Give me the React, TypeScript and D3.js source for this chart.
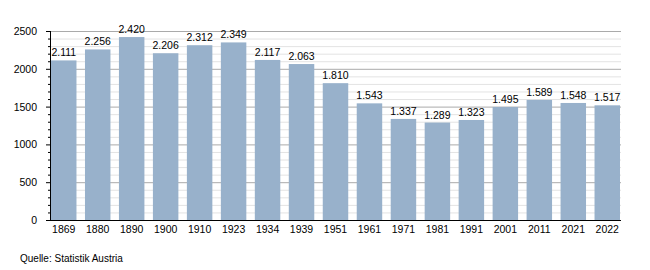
import React from "react";
import * as d3 from "d3";

const years = ["1869","1880","1890","1900","1910","1923","1934","1939","1951","1961","1971","1981","1991","2001","2011","2021","2022"];
const population = [2111,2256,2420,2206,2312,2349,2117,2063,1810,1543,1337,1289,1323,1495,1589,1548,1517];
const yTicks = [0,500,1000,1500,2000,2500];

const W = 650, H = 270;
const left = 50, right = 621, top = 31, bottom = 220;

export default function App() {
  const x = d3.scaleBand<string>().domain(years).range([left + 1, right - 1]).paddingInner(0.25).paddingOuter(0);
  const y = d3.scaleLinear().domain([0, 2500]).range([bottom, top]);
  const minor = d3.range(0, 2501, 100);
  const fmt = (v: number) => d3.format(",")(v).replace(/,/g, ".");
  const font = "'Liberation Sans', Arial, sans-serif";
  return (
    <svg width={W} height={H} style={{ position: "absolute", left: 0, top: 0 }} fontFamily={font}>
      <rect width={W} height={H} fill="#fff" />
      {minor.map(v => (
        <line key={"g" + v} x1={left} x2={right} y1={y(v) + 0.5} y2={y(v) + 0.5}
          stroke={v % 500 === 0 ? "#aaaaaa" : "#e3e3e3"} strokeWidth={1} />
      ))}
      {minor.map(v => (
        <line key={"t" + v} x1={v % 500 === 0 ? left - 4 : left - 2} x2={left} y1={y(v) + 0.5} y2={y(v) + 0.5}
          stroke="#000" strokeWidth={1} />
      ))}
      {years.map((yr, i) => (
        <rect key={yr} x={x(yr)} y={y(population[i])} width={x.bandwidth()} height={bottom - y(population[i])} fill="#98b1cb" />
      ))}
      {years.map((yr, i) => (
        <text key={"l" + yr} x={(x(yr) as number) + x.bandwidth() / 2} y={y(population[i]) - 4}
          textAnchor="middle" fontSize={10.5} fill="#000">{fmt(population[i])}</text>
      ))}
      <line x1={left + 0.5} x2={left + 0.5} y1={top} y2={bottom + 1} stroke="#000" />
      <line x1={left} x2={right} y1={bottom + 0.5} y2={bottom + 0.5} stroke="#000" />
      {yTicks.map(v => (
        <text key={"y" + v} x={37} y={y(v) + 4} textAnchor="end" fontSize={10.5} fill="#000">{v}</text>
      ))}
      {years.map(yr => (
        <text key={"x" + yr} x={(x(yr) as number) + x.bandwidth() / 2} y={233} textAnchor="middle" fontSize={10.5} fill="#000">{yr}</text>
      ))}
      <text x={20} y={262} fontSize={10} fill="#000">Quelle: Statistik Austria</text>
    </svg>
  );
}
